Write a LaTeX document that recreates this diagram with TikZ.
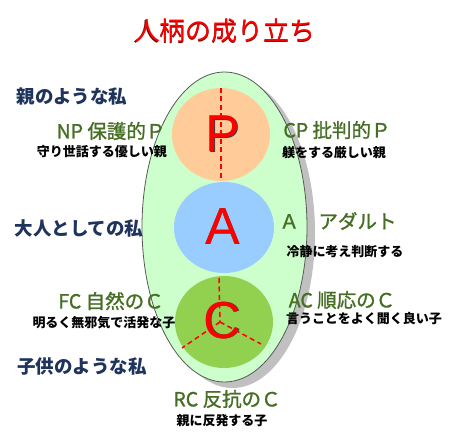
\documentclass[tikz,border=0pt]{standalone}
\usepackage{fontspec}
\setmainfont{Liberation Sans}
\newfontfamily\jp{Noto Sans CJK JP}
\newfontfamily\jpr{Noto Sans CJK JP}[FakeBold=1.2]
\usetikzlibrary{shapes.geometric}
\definecolor{navy}{RGB}{31,52,92}
\definecolor{leaf}{RGB}{70,110,36}
\definecolor{peach}{RGB}{255,204,153}
\definecolor{sky}{RGB}{153,204,255}
\definecolor{grass}{RGB}{146,208,80}
\definecolor{mint}{RGB}{204,255,204}
\definecolor{shade}{RGB}{192,192,192}
\tikzset{
  lbl/.style={font=\jp\bfseries\fontsize{18.5}{18.5}\selectfont, text=navy, inner sep=0},
  role/.style={font=\jpr\fontsize{19.5}{19.5}\selectfont, text=leaf, inner sep=0},
  desc/.style={font=\jp\bfseries\fontsize{13}{13}\selectfont, text=black, inner sep=0},
  big/.style={font=\fontsize{52}{52}\selectfont, text=red, inner sep=0},
  bigshadow/.style={big, text=black!75},
  ttl/.style={font=\jp\fontsize{26}{26}\selectfont, text=red, inner sep=0},
  ttlshadow/.style={ttl, text=red!45!black},
  disc/.style={ellipse, inner sep=0, draw=none},
  rdash/.style={red, line width=1.5pt, dash pattern=on 5pt off 3.5pt},
}
\begin{document}
\begin{tikzpicture}[x=1pt,y=-1pt]
\useasboundingbox (0,0) rectangle (459,436);
\fill[white] (0,0) rectangle (459,436);
% title
\node[ttlshadow] (titleS) at (224.4,31.6) {人柄の成り立ち};
\node[ttl] (title) at (225,31) {人柄の成り立ち};
% big ellipse with shadow
\node[disc, fill=shade, minimum width=165, minimum height=310] (shadowE) at (232.5,233) {};
\node[disc, fill=mint, draw=black!65, line width=0.8pt, minimum width=165, minimum height=310] (outer) at (224.5,227) {};
% circles
\node[disc, fill=peach, minimum width=98, minimum height=93] (pc) at (221,134.5) {};
\node[disc, fill=sky, minimum width=100, minimum height=91] (ac) at (224,227.5) {};
\node[disc, fill=grass, minimum width=98, minimum height=92] (cc) at (224,322) {};
% big letters
\node[bigshadow] (PS) at (223.6,134.6) {P};
\node[big] (P) at (223,134) {P};
\node[bigshadow] (AS) at (223.1,227.1) {A};
\node[big] (A) at (222.5,226.5) {A};
\node[bigshadow] (CS) at (223.1,321.1) {C};
\node[big] (C) at (222.5,320.5) {C};
% dashed lines
\coordinate (ptop) at (221,88);
\coordinate (pbot) at (221,181);
\draw[rdash] (ptop) -- (pbot);
\coordinate (ctop) at (219,278);
\coordinate (cmid) at (220,322);
\coordinate (cleft) at (182,348);
\coordinate (cright) at (261,344);
\draw[rdash] (ctop) -- (cmid);
\draw[rdash] (cmid) -- (cleft);
\draw[rdash] (cmid) -- (cright);
% left side
\node[lbl] (oyaL) at (72,97) {親のような私};
\node[lbl] (otonaL) at (79,228) {大人としての私};
\node[lbl] (kodomoL) at (82,367) {子供のような私};
% roles
\node[role] (np) at (111,131) {NP 保護的Ｐ};
\node[desc] (npd) at (102,152) {守り世話する優しい親};
\node[role] (cp) at (337,130) {CP 批判的Ｐ};
\node[desc] (cpd) at (334,153) {躾をする厳しい親};
\node[role] (ad) at (338,221) {Ａ　アダルト};
\node[desc] (add) at (345,252) {冷静に考え判断する};
\node[role] (fc) at (111,301) {FC 自然のＣ};
\node[desc] (fcd) at (104,323) {明るく無邪気で活発な子};
\node[role] (acl) at (342,300) {AC 順応のＣ};
\node[desc] (acd) at (364,319) {言うことをよく聞く良い子};
\node[role] (rc) at (227,399) {RC 反抗のＣ};
\node[desc] (rcd) at (222,421) {親に反発する子};
\end{tikzpicture}
\end{document}
